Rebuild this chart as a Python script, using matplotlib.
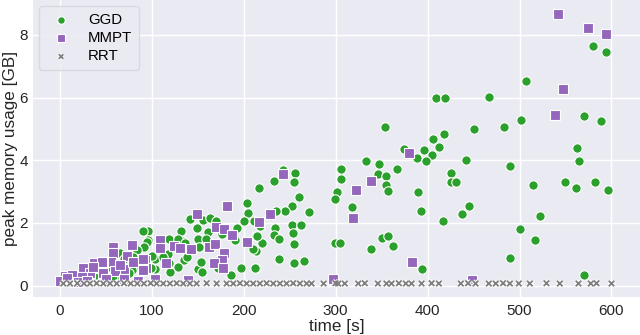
import matplotlib
matplotlib.use("Agg")
import matplotlib.pyplot as plt
import matplotlib.patheffects as pe

plt.rcParams['font.family'] = ['Liberation Sans', 'DejaVu Sans']

# ---- data ----
ggd_t = [580, 594, 506.8, 409, 419.5, 467.3, 353.2, 570, 588.4, 501.7, 450.7, 482.6, 417.4, 406, 412.6,
         374.6, 396, 404.7, 388.7, 398.5, 441.3, 332.6, 347.4, 562, 564.5, 489.5, 305.8, 367,
         306, 301, 299, 317.7, 346, 354.7, 354.7, 357, 425, 425, 430.8, 390, 393, 416.6, 437.3, 445,
         514.5, 549.3, 561.2, 581.8, 596.7, 522.8, 500.7, 516.6, 489.5, 570.2, 299.6, 305, 350.3,
         356.5, 362.3, 339, 393.5,
         243, 255.4, 232.6, 254.3, 216.6, 260.4, 252.5, 244.6, 235.5, 271, 217.4, 233.7, 252.5, 262.6,
         233, 254, 239, 220.2, 255, 213.4, 213, 238, 255, 265.2, 213,
         203.2, 204.3, 200.7, 211.2, 192.4, 141.6, 156, 163, 170.2, 172.4, 149.6, 131.8, 161.5, 176.8,
         133.3, 118.5, 128.9, 150.3, 158.7, 136.2, 151.7, 95.7, 95.7, 107.6, 117.4, 128.9, 135.4, 138.4,
         103.9, 118.8, 128.3, 103.6, 119.6, 150, 154.3, 153.3, 173.2, 172.4, 186.2, 196.7, 212, 190.5,
         214, 209.8, 94.5, 99,
         90.2, 94.5, 91.6, 81.8, 78.9, 65.5, 84, 80, 62, 70, 45, 52, 30, 20, 88, 75, 100, 112, 40, 10,
         58, 68]
ggd_v = [7.65, 7.45, 6.52, 6.0, 6.0, 6.02, 5.07, 5.41, 5.24, 5.27, 5.01, 5.07, 4.85, 4.68, 4.43,
         4.36, 4.33, 4.18, 4.07, 3.98, 4.02, 3.99, 3.89, 4.39, 3.97, 3.83, 3.72, 3.72,
         3.40, 3.00, 2.77, 2.52, 3.56, 3.51, 3.21, 3.03, 3.59, 3.32, 3.32, 2.99, 2.39, 2.07, 2.29, 2.54,
         3.21, 3.32, 3.12, 3.31, 3.05, 2.21, 1.82, 1.45, 0.88, 0.33, 1.36, 1.36, 1.53,
         1.60, 1.28, 1.18, 0.53,
         3.69, 3.58, 3.34, 3.30, 3.11, 2.83, 2.54, 2.39, 2.37, 2.36, 1.90, 1.84, 1.95, 1.95,
         1.63, 1.68, 1.48, 1.37, 1.34, 1.59, 1.12, 0.85, 0.73, 0.79, 0.55,
         2.65, 2.31, 2.06, 2.06, 1.83, 2.13, 2.10, 2.15, 2.06, 1.83, 1.83, 1.75, 1.72, 1.65,
         1.42, 1.50, 1.49, 1.48, 1.48, 1.35, 1.22, 1.73, 1.45, 1.24, 1.00, 1.19, 0.82, 0.93,
         0.84, 0.73, 0.60, 0.53, 0.43, 0.52, 0.45, 0.77, 0.82, 0.55, 0.33, 0.55, 0.55, 1.46,
         1.60, 1.17, 0.82, 0.55,
         1.74, 1.40, 1.24, 1.03, 0.50, 1.03, 1.14, 0.93, 0.66, 0.85, 0.45, 0.6, 0.3, 0.2, 0.6, 0.4,
         0.95, 0.9, 0.35, 0.12, 0.3, 0.25]

mmpt_t = [541.6, 574, 593.5, 547.4, 538.4, 379.7, 338.4, 322.4, 318.5, 383.3, 297.4, 448,
          242.7, 228.6, 216.6,
          149.6, 182.2, 169.9, 178.6, 187.6, 203.9, 109, 109, 124.6, 130.8, 142.4, 162.6, 168.8, 178.9,
          176.1, 168, 177.2, 115.2, 103.6, 139.8, 92.7, 93.8,
          57.6, 78.2, 57.6, 73.5, 55.8, 46.7, 37.3, 25.7, 38.4, 69.9, 80, 90.2, 90.9, 60.1, 47.4, 32.9,
          16.6, 11.2, 23.9, 5.8, 0.3, 65.5, 45.6, 36.5, 13, 7.6, 20, 30, 50, 70, 85]
mmpt_v = [8.67, 8.22, 8.03, 6.26, 5.44, 4.22, 3.33, 3.04, 2.16, 0.76, 0.20, 0.18,
          3.57, 2.28, 2.04,
          2.28, 2.53, 1.86, 1.82, 1.61, 1.40, 1.46, 1.19, 1.28, 1.19, 1.16, 1.22, 1.33, 1.05,
          0.82, 0.73, 0.57, 0.73, 0.20, 0.18, 0.82, 0.55,
          1.22, 1.30, 1.05, 0.95, 0.77, 0.77, 0.71, 0.55, 0.55, 0.52, 0.77, 0.84, 0.50, 0.48, 0.40, 0.40,
          0.29, 0.18, 0.29, 0.31, 0.16, 0.66, 0.75, 0.61, 0.34, 0.24, 0.12, 0.15, 0.2, 0.2, 0.15]

rrt_t = [3.9, 11.2, 19.1, 26.4, 32.9, 40.2, 47.4, 54.7, 62, 69.9, 77.2, 84.3, 91.6, 98.9, 105.4,
         112.6, 119.9, 127.2, 134.3, 141.6, 148.9, 159.8, 170.7, 181.5, 188.7, 196, 203.3, 210.4,
         217.7, 225, 232.2, 239.5, 246.7, 253.9, 261.2, 268.5, 273.9,
         287, 299.9, 302.8, 310, 324.6, 331.8, 346, 355.3, 360.8, 368.8, 376.4, 382.6, 393.5, 404.4,
         412.3, 436.2, 444.1, 452.2, 466.6, 474.2, 482.1, 489.5, 499.2, 511.2, 529.3, 543.8, 564.1,
         577.5, 583.7, 600]
rrt_v = [0.07, 0.07, 0.08, 0.07, 0.07, 0.08, 0.07, 0.07, 0.07, 0.08, 0.07, 0.07, 0.07, 0.08, 0.07,
         0.07, 0.07, 0.08, 0.07, 0.07, 0.07, 0.08, 0.07, 0.07, 0.07, 0.08, 0.07, 0.07,
         0.07, 0.08, 0.07, 0.07, 0.07, 0.08, 0.07, 0.07, 0.07,
         0.07, 0.08, 0.07, 0.07, 0.07, 0.08, 0.07, 0.07, 0.07, 0.08, 0.07, 0.07, 0.07, 0.08,
         0.07, 0.07, 0.08, 0.07, 0.07, 0.07, 0.08, 0.07, 0.07, 0.07, 0.08, 0.07, 0.07,
         0.07, 0.08, 0.07]

x_ticks = [0, 100, 200, 300, 400, 500, 600]
y_ticks = [0, 2, 4, 6, 8]

fig = plt.figure(figsize=(6.4, 3.35), dpi=100)
ax = fig.add_axes([0.0516, 0.1134, 0.9484, 0.8866])
ax.set_facecolor('#EAEAF2')
for s in ax.spines.values():
    s.set_visible(False)
ax.grid(True, color='white', linewidth=1.0)
ax.set_axisbelow(True)

ax.scatter(ggd_t, ggd_v, s=46, marker='o', color='#2ca02c', edgecolor='white', linewidth=0.8,
           label='GGD', zorder=2)
ax.scatter(mmpt_t, mmpt_v, s=42, marker='s', color='#9467bd', edgecolor='white', linewidth=0.8,
           label='MMPT', zorder=3)
ax.scatter(rrt_t, rrt_v, s=16, marker='x', color='#7f7f7f', linewidth=1.3, label='RRT', zorder=4,
           path_effects=[pe.Stroke(linewidth=2.8, foreground='white'), pe.Normal()])

ax.set_xlim(-29, 631)
ax.set_ylim(-0.36, 9.11)
ax.set_xticks(x_ticks)
ax.set_yticks(y_ticks)
ax.tick_params(axis='both', length=0, labelsize=11, labelcolor='#262626')
ax.tick_params(axis='y', pad=3.5)
ax.tick_params(axis='x', pad=5)
ax.set_xlabel('time [s]', fontsize=12.3, color='#262626', labelpad=1)
ax.set_ylabel('peak memory usage [GB]', fontsize=12.3, color='#262626', labelpad=0)
ax.yaxis.set_label_coords(-0.025, 0.5)

leg = ax.legend(loc='upper left', fontsize=10.8, frameon=True, facecolor='#EAEAF2',
                edgecolor='#d4d4dc', framealpha=0.8, borderaxespad=0.42, markerscale=0.8,
                labelspacing=0.28, borderpad=0.45, handletextpad=0.8)

fig.savefig('out.png', dpi=100)
